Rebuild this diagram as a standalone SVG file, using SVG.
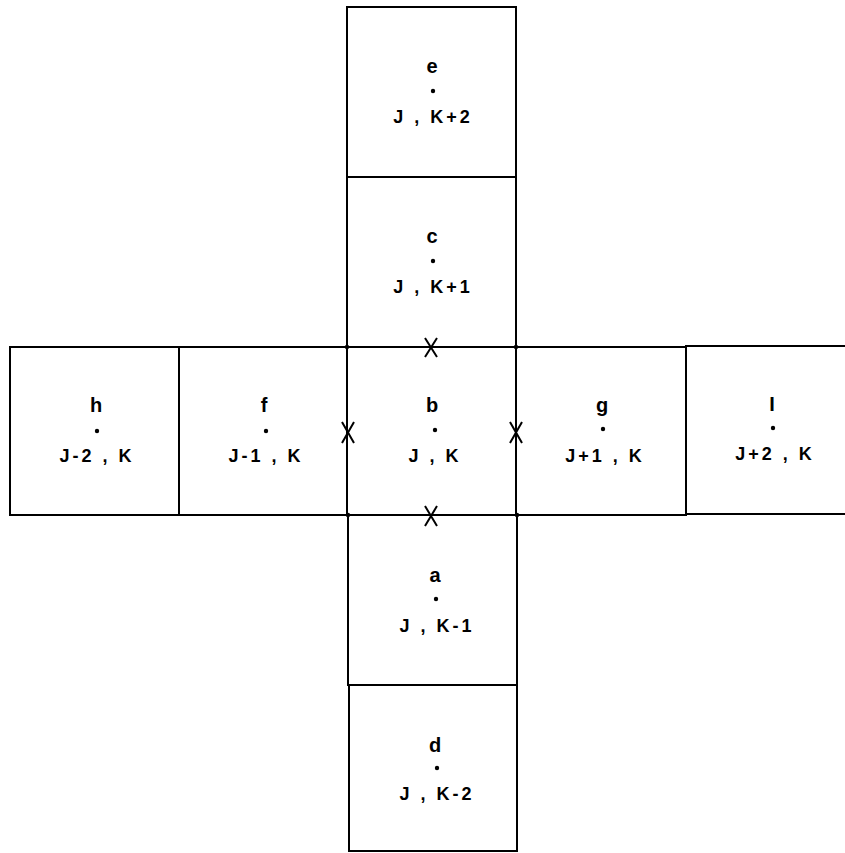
<svg xmlns="http://www.w3.org/2000/svg" width="845" height="853" viewBox="0 0 845 853">
<style>
.cell{fill:none;stroke:#000;stroke-width:2}
.lt{font-family:"Liberation Sans",Arial,sans-serif;font-size:20px;font-weight:bold;fill:#000;text-anchor:middle}
.lb{font-family:"Liberation Sans",Arial,sans-serif;font-size:18px;font-weight:bold;fill:#000;text-anchor:middle;letter-spacing:3px}
.x{stroke:#000;stroke-width:2;fill:none}
</style>
<defs>
<g id="dot"><circle r="2.2" fill="#000"/></g>
</defs>
<rect width="845" height="853" fill="#fff"/>
<g id="cell-e">
<rect class="cell" x="347" y="7" width="169" height="170"/>
<text class="lt" x="432" y="73">e</text>
<use href="#dot" x="433" y="91"/>
<text class="lb" x="433" y="123">J , K+2</text>
</g>
<g id="cell-c">
<rect class="cell" x="347" y="177" width="169" height="170"/>
<text class="lt" x="432" y="243">c</text>
<use href="#dot" x="433" y="261"/>
<text class="lb" x="433" y="293">J , K+1</text>
</g>
<g id="cell-h">
<rect class="cell" x="10" y="347" width="169" height="168"/>
<text class="lt" x="96" y="412">h</text>
<use href="#dot" x="97" y="431"/>
<text class="lb" x="97" y="462">J-2 , K</text>
</g>
<g id="cell-f">
<rect class="cell" x="179" y="347" width="168" height="168"/>
<text class="lt" x="264" y="412">f</text>
<use href="#dot" x="266" y="431"/>
<text class="lb" x="266" y="462">J-1 , K</text>
</g>
<g id="cell-b">
<rect class="cell" x="347" y="347" width="169" height="168"/>
<text class="lt" x="432" y="412">b</text>
<use href="#dot" x="435" y="430"/>
<text class="lb" x="435" y="462">J , K</text>
</g>
<g id="cell-g">
<rect class="cell" x="516" y="347" width="170" height="168"/>
<text class="lt" x="602" y="412">g</text>
<use href="#dot" x="603" y="429"/>
<text class="lb" x="605" y="462">J+1 , K</text>
</g>
<g id="cell-i">
<rect class="cell" x="686" y="346" width="170" height="168"/>
<text class="lt" x="772" y="411">I</text>
<use href="#dot" x="773" y="428"/>
<text class="lb" x="775" y="460">J+2 , K</text>
</g>
<g id="cell-a">
<rect class="cell" x="348" y="515" width="169" height="170"/>
<text class="lt" x="435" y="582">a</text>
<use href="#dot" x="436" y="599"/>
<text class="lb" x="437" y="632">J , K-1</text>
</g>
<g id="cell-d">
<rect class="cell" x="349" y="685" width="168" height="166"/>
<text class="lt" x="435" y="752">d</text>
<use href="#dot" x="437" y="768"/>
<text class="lb" x="437" y="800">J , K-2</text>
</g>
<g id="marks">
<path class="x" d="M425,338 L437,357 M437,338 L425,357"/>
<path class="x" d="M425,506 L437,526 M437,506 L425,526"/>
<path class="x" d="M342,422 L354,443 M354,422 L342,443"/>
<path class="x" d="M510,422 L522,443 M522,422 L510,443"/>
<use href="#dot" x="347" y="347"/>
<use href="#dot" x="516" y="347"/>
<use href="#dot" x="348" y="515"/>
<use href="#dot" x="517" y="515"/>
</g>
</svg>
